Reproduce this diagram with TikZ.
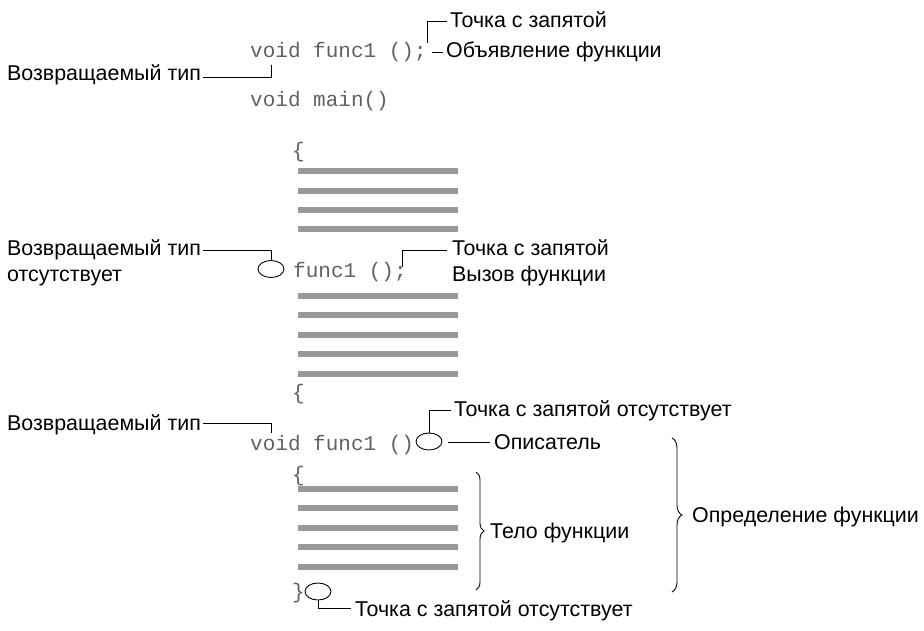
\documentclass[tikz,border=0pt]{standalone}
\usepackage{fontspec}
\setmainfont{Liberation Sans}
\newfontfamily\codefont{Liberation Mono}
\usetikzlibrary{decorations.pathreplacing,shapes.geometric}
\begin{document}
\begin{tikzpicture}[x=1pt,y=-1pt,
  lbl/.style={anchor=base west,inner sep=0pt,font=\fontsize{21.4}{25}\selectfont},
  code/.style={anchor=base west,inner sep=0pt,text=black!62,font=\codefont\fontsize{21}{24}\selectfont},
  conn/.style={draw=black,line width=0.8pt},
  bar/.style={draw=black!40,line width=5.3pt},
  hole/.style={draw=black,line width=0.9pt,ellipse,inner sep=0pt,minimum width=26pt,minimum height=17pt},
  brc/.style={draw=black,line width=0.9pt,decorate,decoration={brace,amplitude=8pt}}]
\useasboundingbox (0,0) rectangle (924,631);
% code
\node[code] (c1) at (250,58) {void func1 ();};
\node[code] (c2) at (250,107) {void main()};
\node[code] (c3) at (292,158) {\{};
\node[code] (c4) at (293,278) {func1 ();};
\node[code] (c5) at (292,399) {\{};
\node[code] (c6) at (250,450) {void func1 ()};
\node[code] (c7) at (292,481) {\{};
\node[code] (c8) at (292,598) {\}};
% bars
\foreach \y in {171,191,210,229,296,315,335,354,374,489,508,528,547,567}
  \draw[bar] (298,\y) -- (458,\y);
% ellipses
\node[hole] (e1) at (271,269) {};
\node[hole] (e2) at (429,441.5) {};
\node[hole] (e3) at (318,591.5) {};
% labels
\node[lbl] (tz1) at (450,28) {Точка с запятой};
\node[lbl] (ob) at (446,58) {Объявление функции};
\node[lbl] (rt1) at (7,81) {Возвращаемый тип};
\node[lbl] (rt2) at (7,256) {Возвращаемый тип};
\node[lbl] (ots) at (7,282) {отсутствует};
\node[lbl] (tz2) at (452,256) {Точка с запятой};
\node[lbl] (vz) at (452,281) {Вызов функции};
\node[lbl] (tz3) at (454,416) {Точка с запятой отсутствует};
\node[lbl] (rt3) at (7,430) {Возвращаемый тип};
\node[lbl] (op) at (494,449) {Описатель};
\node[lbl] (telo) at (490,538) {Тело функции};
\node[lbl] (opr) at (692,522) {Определение функции};
\node[lbl] (tz4) at (355,616) {Точка с запятой отсутствует};
% connector coordinates
\coordinate (a1s) at (203,77);
\coordinate (a1e) at (271,65);
\coordinate (b1s) at (427,43);
\coordinate (b1e) at (447,21);
\coordinate (d1s) at (432,52);
\coordinate (d1e) at (443,52);
\coordinate (a2s) at (203,250);
\coordinate (b2s) at (402,267);
\coordinate (b2e) at (447,250);
\coordinate (a3s) at (203,423);
\coordinate (a3e) at (271,433);
\coordinate (b3e) at (451,410);
\coordinate (o1s) at (448,442);
\coordinate (o1e) at (490,442);
\coordinate (b4e) at (351,608);
% connectors
\draw[conn] (a1s) -| (a1e);
\draw[conn] (b1s) |- (b1e);
\draw[conn] (d1s) -- (d1e);
\draw[conn] (a2s) -| (e1.north);
\draw[conn] (b2s) |- (b2e);
\draw[conn] (a3s) -| (a3e);
\draw[conn] (e2.north) |- (b3e);
\draw[conn] (o1s) -- (o1e);
\draw[conn] (e3.south) |- (b4e);
% braces
\coordinate (br1t) at (476,472);
\coordinate (br1b) at (476,590);
\coordinate (br2t) at (672,438);
\coordinate (br2b) at (672,592);
\draw[brc] (br1t) -- (br1b);
\draw[brc,decoration={brace,amplitude=10pt}] (br2t) -- (br2b);
\end{tikzpicture}
\end{document}
